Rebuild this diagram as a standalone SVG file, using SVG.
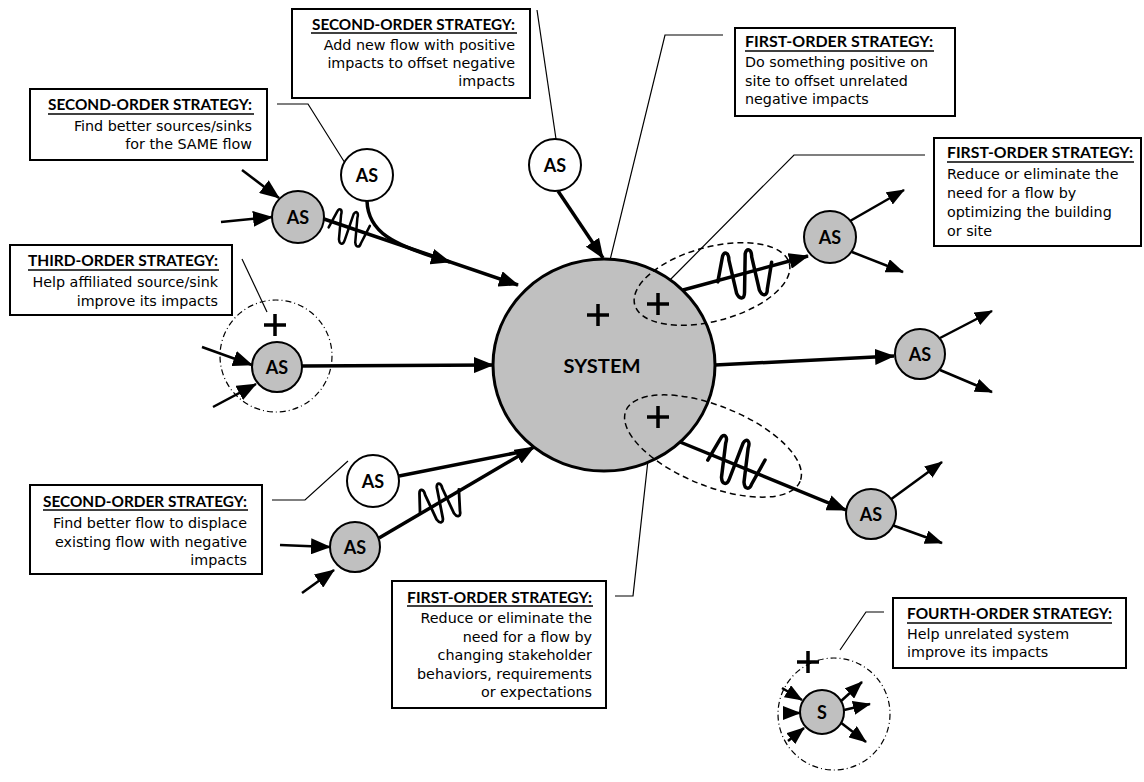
<svg xmlns="http://www.w3.org/2000/svg" width="1144" height="782" viewBox="0 0 1144 782">
<defs>
<style>
.box{fill:#fff;stroke:#000;stroke-width:2}
.ttl{font-family:Lato,"Open Sans",sans-serif;font-weight:700;font-size:15px}
.bd{font-family:"DejaVu Sans",Verdana,sans-serif;font-size:14.3px}
.ul{stroke:#000;stroke-width:1.5}
.ldr{fill:none;stroke:#000;stroke-width:1.2}
.flow{fill:none;stroke:#000;stroke-width:3.5}
.io{fill:none;stroke:#000;stroke-width:2.5}
.as{fill:#c0c0c0;stroke:#000;stroke-width:2}
.asw{fill:#fff;stroke:#000;stroke-width:2}
.lbl{font-family:Lato,sans-serif;font-weight:700;font-size:18px;text-anchor:middle}
.plus{stroke:#000;stroke-width:3.5;fill:none}
.dash{fill:none;stroke:#000;stroke-width:1.5;stroke-dasharray:6 4}
.dd{fill:none;stroke:#000;stroke-width:1.2;stroke-dasharray:6 3 1 3}
.zz{fill:none;stroke:#000;stroke-width:3.5;stroke-linejoin:round;stroke-linecap:round}
</style>
<marker id="ah" viewBox="0 0 20 16" refX="19" refY="8" markerWidth="20" markerHeight="16" markerUnits="userSpaceOnUse" orient="auto"><path d="M0,0 L20,8 L0,16 z"/></marker>
<marker id="ahs" viewBox="0 0 18 14" refX="17" refY="7" markerWidth="18" markerHeight="14" markerUnits="userSpaceOnUse" orient="auto"><path d="M0,0 L18,7 L0,14 z"/></marker>
<path id="zz" d="M-28,4 L-20,-20 C-18,-26 -13,-24 -14,-16 L-11,18 C-9,25 -4,25 -3,18 L3,-20 C5,-26 10,-24 9,-16 L12,18 C14,25 19,25 20,18 L28,-8"/>
<path id="pl" d="M-11,0 H11 M0,-11 V11"/>
</defs>

<g id="connectors">
  <path class="ldr" d="M277,104 H308 L345,163"/>
  <path class="ldr" d="M537,10 L556,139"/>
  <path class="ldr" d="M723,35 H665 L601,297"/>
  <path class="ldr" d="M925,155 H794 L660,290"/>
  <path class="ldr" d="M242,259 L267,312"/>
  <path class="ldr" d="M272,500 H305 L348,461"/>
  <path class="ldr" d="M615,596 H633 L650,442"/>
  <path class="ldr" d="M884,612 H866 L840,650"/>
  <path class="io" d="M242,170 L279,198" marker-end="url(#ah)"/>
  <path class="io" d="M221,222 L272,217" marker-end="url(#ah)"/>
  <path class="flow" d="M324,219 L518,285" marker-end="url(#ah)"/>
  <path class="flow" d="M367,201 C368,232 392,245 450,262" marker-end="url(#ah)"/>
  <use class="zz" href="#zz" transform="translate(349,228) rotate(10) scale(0.72)"/>
  <path class="flow" d="M558,191 L603,258" marker-end="url(#ah)"/>
  <path class="flow" d="M683,290 L808,256" marker-end="url(#ah)"/>
  <use class="zz" href="#zz" transform="translate(745,274) rotate(-8)"/>
  <path class="io" d="M850,221 L904,190" marker-end="url(#ahs)"/>
  <path class="io" d="M852,252 L903,272" marker-end="url(#ahs)"/>
  <path class="flow" d="M715,365 L894,356" marker-end="url(#ah)"/>
  <path class="io" d="M940,338 L992,311" marker-end="url(#ahs)"/>
  <path class="io" d="M940,370 L992,392" marker-end="url(#ahs)"/>
  <path class="flow" d="M680,442 L846,510" marker-end="url(#ah)"/>
  <use class="zz" href="#zz" transform="translate(736,462) rotate(12)"/>
  <path class="io" d="M890,500 L942,462" marker-end="url(#ahs)"/>
  <path class="io" d="M892,525 L942,543" marker-end="url(#ahs)"/>
  <path class="io" d="M202,347 L252,365" marker-end="url(#ah)"/>
  <path class="io" d="M213,407 L256,384" marker-end="url(#ah)"/>
  <path class="flow" d="M302,366 L493,365" marker-end="url(#ah)"/>
  <path class="flow" d="M399,476 L530,450"/>
  <path class="io" d="M280,545 L330,547" marker-end="url(#ah)"/>
  <path class="io" d="M302,593 L334,570" marker-end="url(#ah)"/>
  <path class="flow" d="M379,538 L534,447" marker-end="url(#ah)"/>
  <use class="zz" href="#zz" transform="translate(440,503) rotate(-20) scale(0.8)"/>
  <path class="io" d="M782,688 L802,700" marker-end="url(#ahs)"/>
  <path class="io" d="M783,713 L800,713" marker-end="url(#ahs)"/>
  <path class="io" d="M788,741 L804,728" marker-end="url(#ahs)"/>
  <path class="io" d="M840,702 L862,682" marker-end="url(#ahs)"/>
  <path class="io" d="M844,710 L870,704" marker-end="url(#ahs)"/>
  <path class="io" d="M840,722 L866,742" marker-end="url(#ahs)"/>
</g>

<g id="system">
  <ellipse cx="604" cy="365" rx="111" ry="106" fill="#c0c0c0" stroke="#000" stroke-width="3"/>
  <text x="602" y="373" class="lbl" font-size="20" font-weight="600" textLength="77" lengthAdjust="spacingAndGlyphs">SYSTEM</text>
  <use class="plus" href="#pl" transform="translate(598,315)"/>
</g>

<g id="onsite-plus">
  <ellipse class="dash" cx="712" cy="284" rx="80" ry="37" transform="rotate(-15 712 284)"/>
  <use class="plus" href="#pl" transform="translate(658,304)"/>
</g>
<g id="behavior-plus">
  <ellipse class="dash" cx="713" cy="446" rx="94" ry="40" transform="rotate(22 713 446)"/>
  <use class="plus" href="#pl" transform="translate(658,417)"/>
</g>

<g id="as-ul"><circle class="as" cx="298" cy="217" r="26"/><text class="lbl" x="298" y="224">AS</text></g>
<g id="as-ulw"><circle class="asw" cx="367" cy="175" r="26"/><text class="lbl" x="367" y="182">AS</text></g>
<g id="as-top"><circle class="asw" cx="555" cy="165" r="26"/><text class="lbl" x="555" y="172">AS</text></g>
<g id="as-ur"><circle class="as" cx="830" cy="237" r="26"/><text class="lbl" x="830" y="244">AS</text></g>
<g id="as-r"><circle class="as" cx="920" cy="354" r="25"/><text class="lbl" x="920" y="361">AS</text></g>
<g id="as-lr"><circle class="as" cx="871" cy="514" r="25"/><text class="lbl" x="871" y="521">AS</text></g>
<g id="as-third">
  <circle class="dd" cx="276" cy="356" r="56"/>
  <use class="plus" href="#pl" transform="translate(275,325)"/>
  <circle class="as" cx="277" cy="367" r="25"/><text class="lbl" x="277" y="374">AS</text>
</g>
<g id="as-llw"><circle class="asw" cx="373" cy="481" r="26"/><text class="lbl" x="373" y="488">AS</text></g>
<g id="as-ll"><circle class="as" cx="355" cy="547" r="25"/><text class="lbl" x="355" y="554">AS</text></g>
<g id="fourth">
  <circle class="dd" cx="834" cy="714" r="56"/>
  <use class="plus" href="#pl" transform="translate(808,662)"/>
  <circle class="as" cx="822" cy="712" r="22"/><text class="lbl" x="822" y="719">S</text>
</g>

<g id="box-second-sources">
  <rect class="box" x="30" y="89" width="237" height="71"/>
  <text class="ttl" x="252" y="110" text-anchor="end" textLength="204" lengthAdjust="spacingAndGlyphs">SECOND-ORDER STRATEGY:</text>
  <line class="ul" x1="48" y1="114" x2="254" y2="114"/>
  <text class="bd" text-anchor="end"><tspan x="252" y="131">Find better sources/sinks</tspan><tspan x="252" y="149">for the SAME flow</tspan></text>
</g>
<g id="box-second-add">
  <rect class="box" x="292" y="9" width="238" height="89"/>
  <text class="ttl" x="515" y="30" text-anchor="end" textLength="203" lengthAdjust="spacingAndGlyphs">SECOND-ORDER STRATEGY:</text>
  <line class="ul" x1="311" y1="33" x2="517" y2="33"/>
  <text class="bd" text-anchor="end"><tspan x="515" y="50">Add new flow with positive</tspan><tspan x="515" y="68">impacts to offset negative</tspan><tspan x="515" y="86">impacts</tspan></text>
</g>
<g id="box-first-site">
  <rect class="box" x="735" y="28" width="220" height="88"/>
  <text class="ttl" x="745" y="47" textLength="188" lengthAdjust="spacingAndGlyphs">FIRST-ORDER STRATEGY:</text>
  <line class="ul" x1="745" y1="51" x2="934" y2="51"/>
  <text class="bd"><tspan x="745" y="67">Do something positive on</tspan><tspan x="745" y="86">site to offset unrelated</tspan><tspan x="745" y="104">negative impacts</tspan></text>
</g>
<g id="box-first-building">
  <rect class="box" x="934" y="138" width="207" height="108"/>
  <text class="ttl" x="947" y="158" textLength="186" lengthAdjust="spacingAndGlyphs">FIRST-ORDER STRATEGY:</text>
  <line class="ul" x1="947" y1="162" x2="1134" y2="162"/>
  <text class="bd"><tspan x="947" y="179">Reduce or eliminate the</tspan><tspan x="947" y="198">need for a flow by</tspan><tspan x="947" y="217">optimizing the building</tspan><tspan x="947" y="236">or site</tspan></text>
</g>
<g id="box-third">
  <rect class="box" x="10" y="245" width="222" height="70"/>
  <text class="ttl" x="218" y="266" text-anchor="end" textLength="190" lengthAdjust="spacingAndGlyphs">THIRD-ORDER  STRATEGY:</text>
  <line class="ul" x1="28" y1="270" x2="219" y2="270"/>
  <text class="bd" text-anchor="end"><tspan x="218" y="287">Help affiliated source/sink</tspan><tspan x="218" y="306">improve its impacts</tspan></text>
</g>
<g id="box-second-displace">
  <rect class="box" x="30" y="485" width="232" height="89"/>
  <text class="ttl" x="247" y="507" text-anchor="end" textLength="204" lengthAdjust="spacingAndGlyphs">SECOND-ORDER STRATEGY:</text>
  <line class="ul" x1="43" y1="510" x2="248" y2="510"/>
  <text class="bd" text-anchor="end"><tspan x="247" y="528">Find better flow to displace</tspan><tspan x="247" y="547">existing flow with negative</tspan><tspan x="247" y="565">impacts</tspan></text>
</g>
<g id="box-first-behavior">
  <rect class="box" x="392" y="581" width="214" height="127"/>
  <text class="ttl" x="592" y="603" text-anchor="end" textLength="185" lengthAdjust="spacingAndGlyphs">FIRST-ORDER STRATEGY:</text>
  <line class="ul" x1="407" y1="606" x2="593" y2="606"/>
  <text class="bd" text-anchor="end"><tspan x="592" y="623">Reduce or eliminate the</tspan><tspan x="592" y="642">need for a flow by</tspan><tspan x="592" y="660">changing stakeholder</tspan><tspan x="592" y="679">behaviors, requirements</tspan><tspan x="592" y="697">or expectations</tspan></text>
</g>
<g id="box-fourth">
  <rect class="box" x="893" y="598" width="233" height="70"/>
  <text class="ttl" x="907" y="619" textLength="205" lengthAdjust="spacingAndGlyphs">FOURTH-ORDER STRATEGY:</text>
  <line class="ul" x1="907" y1="623" x2="1112" y2="623"/>
  <text class="bd"><tspan x="907" y="639">Help unrelated system</tspan><tspan x="907" y="657">improve its impacts</tspan></text>
</g>
</svg>
